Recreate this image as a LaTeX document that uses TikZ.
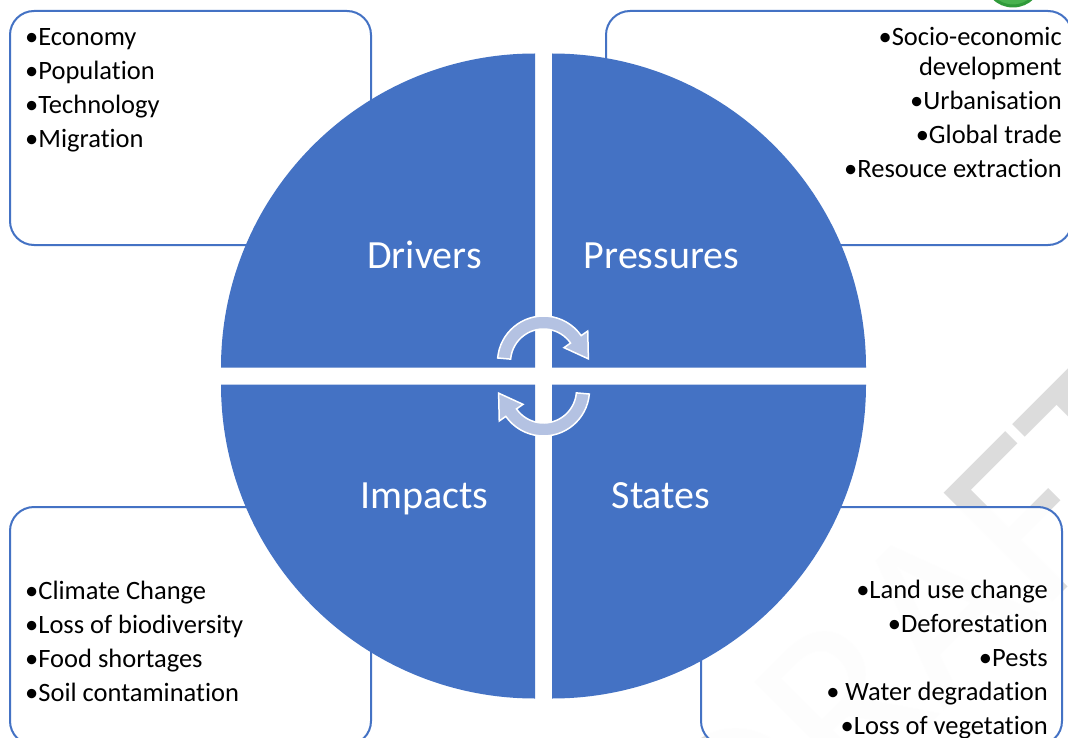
\documentclass[tikz,border=0pt]{standalone}
\usepackage{fontspec}
\setmainfont{Carlito}[Ligatures={NoCommon,NoContextual},Contextuals={NoAlternate}]
\usetikzlibrary{calc}
\definecolor{qblue}{HTML}{4472C4}
\definecolor{arrfill}{HTML}{B4C2E2}
\definecolor{wmgray}{HTML}{DCDCDC}
\definecolor{gfill}{HTML}{48B24F}
\definecolor{gline}{HTML}{2F9A3A}
\begin{document}
\begin{tikzpicture}[x=1pt,y=-1pt,
  infobox/.style={draw=qblue, line width=2pt, fill=white, fill opacity=0.97, rounded corners=24pt},
  quad/.style={fill=qblue},
  cyc/.style={fill=arrfill, draw=white, line width=1.5pt, line join=miter},
  item/.style={font=\fontsize{26.5}{30}\selectfont, text=black, inner sep=0pt, anchor=base west},
  ritem/.style={item, anchor=base east},
  qlabel/.style={font=\fontsize{40}{48}\selectfont, text=white, inner sep=0pt, anchor=base}
]
\useasboundingbox (0,0) rectangle (1068,738);
\fill[white] (0,0) rectangle (1068,738);
% watermark
\node[font=\fontsize{240}{240}\selectfont, text=wmgray, rotate=45, anchor=base west, inner sep=0pt] (wm) at (747,908) {DRAFT};
% green badge
\draw[fill=gfill, draw=gline, line width=3pt] (1013,-22) circle[radius=28];
% boxes
\path[infobox] (10,11) rectangle (371,245);
\path[infobox] (606,11) rectangle (1072,245);
\path[infobox] (10,507) rectangle (371,745);
\path[infobox] (701,507) rectangle (1062,745);
% quadrants
\fill[quad] (535,367.5) -- ++(-314,0) arc[start angle=180,end angle=270,radius=314] -- cycle;
\fill[quad] (552,367.5) -- ++(0,-314) arc[start angle=270,end angle=360,radius=314] -- cycle;
\fill[quad] (552,384.5) -- ++(314,0) arc[start angle=0,end angle=90,radius=314] -- cycle;
\fill[quad] (535,384.5) -- ++(0,314) arc[start angle=90,end angle=180,radius=314] -- cycle;
% cycle arrows
\coordinate (ct) at (543.5,362);
\coordinate (cb) at (543.5,390);
\path[cyc] ($(ct)+(185:46)$) arc[start angle=185,end angle=325,radius=46]
  -- ($(ct)+(325:54)$) -- ($(ct)+(356:45)$) -- ($(ct)+(325:25)$)
  -- ($(ct)+(325:33)$) arc[start angle=325,end angle=185,radius=33] -- cycle;
\path[cyc] ($(cb)+(5:46)$) arc[start angle=5,end angle=145,radius=46]
  -- ($(cb)+(145:54)$) -- ($(cb)+(176:45)$) -- ($(cb)+(145:25)$)
  -- ($(cb)+(145:33)$) arc[start angle=145,end angle=5,radius=33] -- cycle;
% quadrant labels
\node[qlabel] (drv) at (424.5,268) {Drivers};
\node[qlabel] (prs) at (661.5,268) {Pressures};
\node[qlabel] (imp) at (424.5,508) {Impacts};
\node[qlabel] (sts) at (661,508) {States};
% drivers list
\node[item] (d1) at (25,46) {•Economy};
\node[item] (d2) at (25,80) {•Population};
\node[item] (d3) at (25,114) {•Technology};
\node[item] (d4) at (25,148) {•Migration};
% pressures list
\node[ritem] (p1) at (1062,46) {•Socio-economic};
\node[ritem] (p2) at (1062,76) {development};
\node[ritem] (p3) at (1062,110) {•Urbanisation};
\node[ritem] (p4) at (1062,144) {•Global trade};
\node[ritem] (p5) at (1062,178) {•Resouce extraction};
% impacts list
\node[item] (i1) at (25,599) {•Climate Change};
\node[item] (i2) at (25,633) {•Loss of biodiversity};
\node[item] (i3) at (25,667) {•Food shortages};
\node[item] (i4) at (25,701) {•Soil contamination};
% states list
\node[ritem] (s1) at (1048,598) {•Land use change};
\node[ritem] (s2) at (1048,632) {•Deforestation};
\node[ritem] (s3) at (1048,666) {•Pests};
\node[ritem] (s4) at (1048,700) {• Water degradation};
\node[ritem] (s5) at (1048,734) {•Loss of vegetation};
\end{tikzpicture}
\end{document}
